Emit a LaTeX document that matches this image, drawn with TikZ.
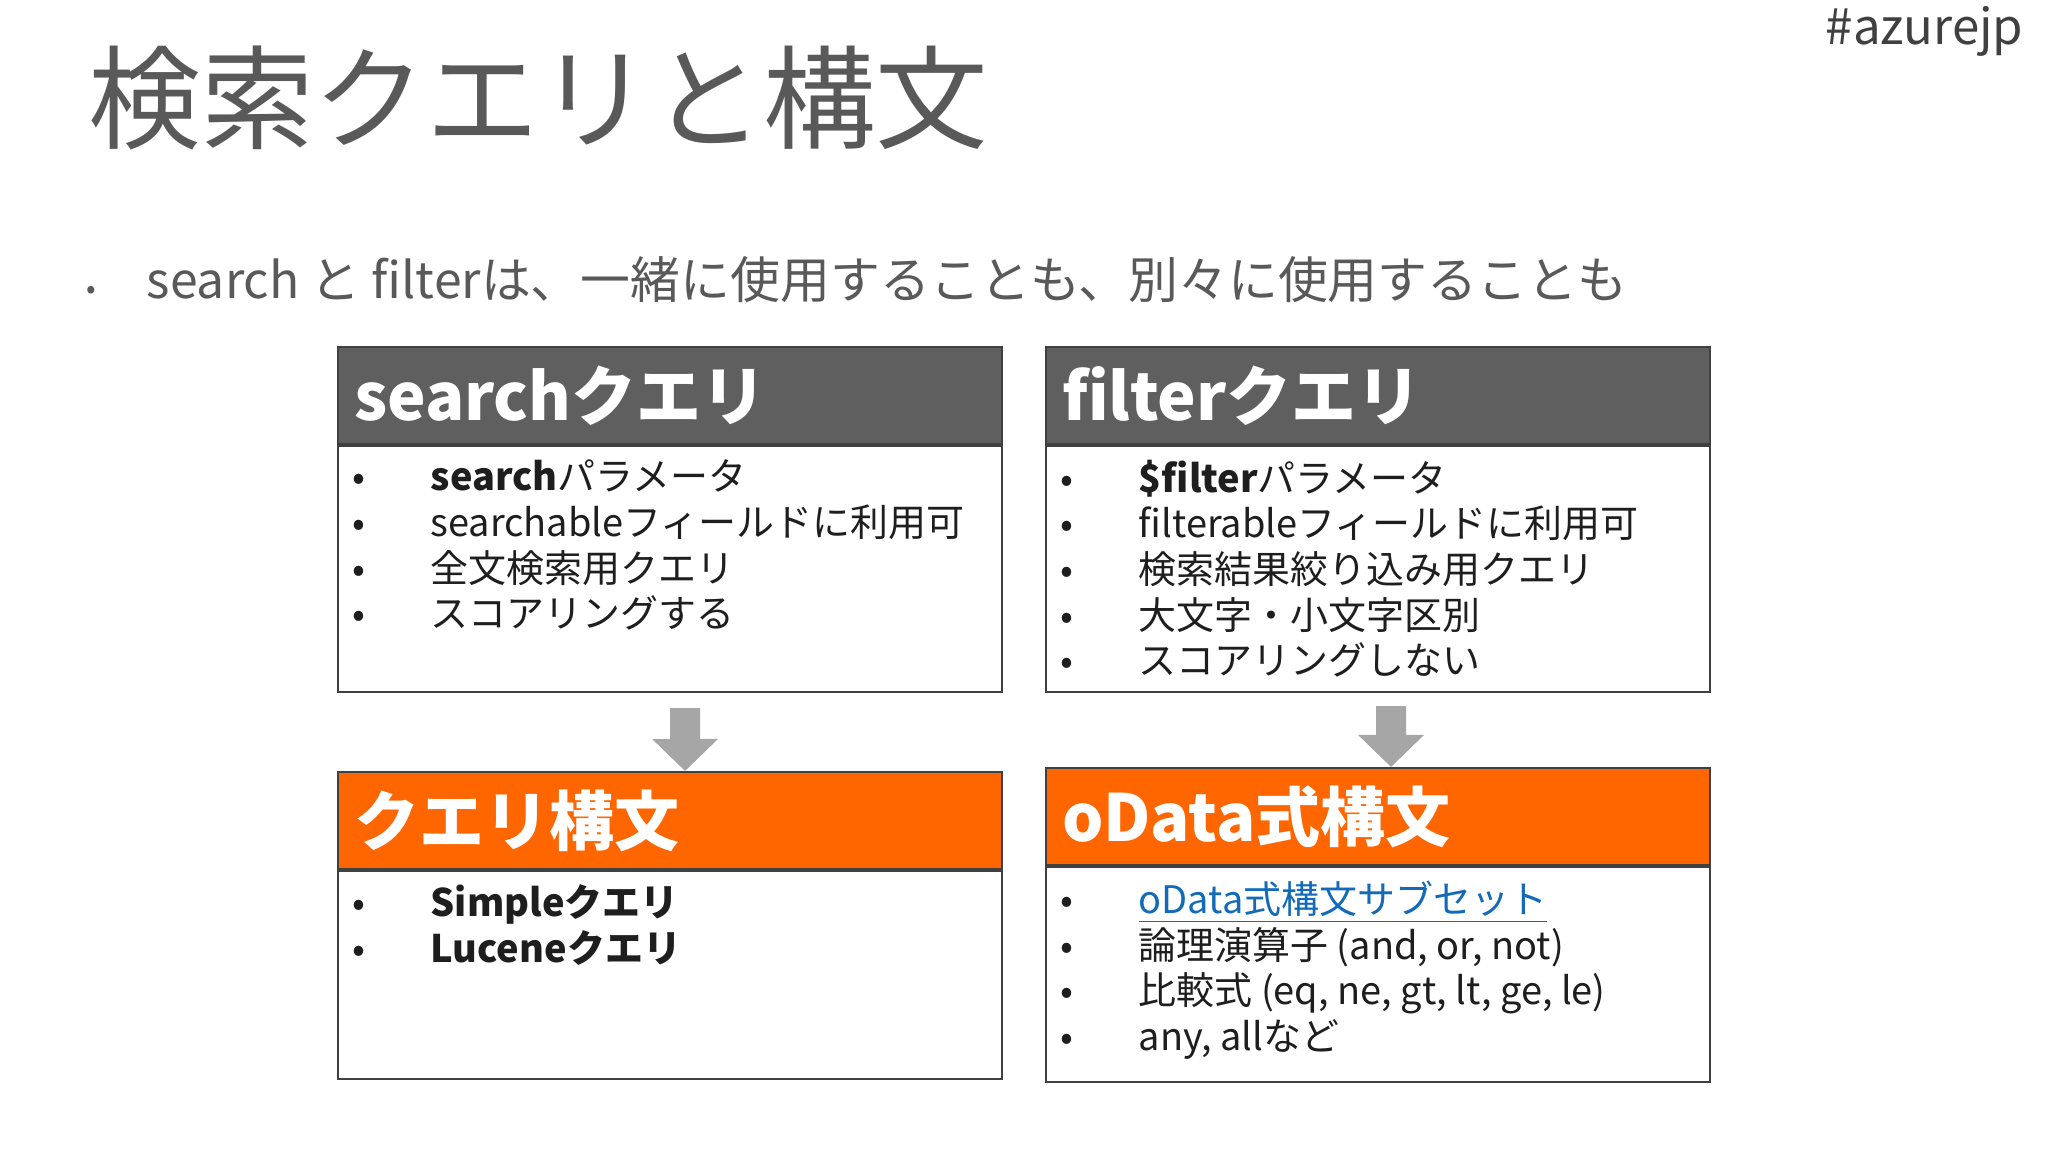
\documentclass[tikz,border=0pt]{standalone}
\usepackage{fontspec}
\setmainfont{Noto Sans CJK JP}
\usepackage{xcolor}
\usepackage{tikz}
\usetikzlibrary{positioning,arrows.meta}
\definecolor{slgray}{RGB}{89,89,89}
\definecolor{slhead}{RGB}{95,95,95}
\definecolor{slorange}{RGB}{255,102,0}
\definecolor{slarrow}{RGB}{166,166,166}
\definecolor{sltext}{RGB}{30,30,30}
\definecolor{sllink}{RGB}{18,106,184}
\definecolor{slline}{RGB}{64,64,64}

\tikzset{
  boxhead/.style={draw=slline, line width=0.6pt, anchor=north west, minimum height=0.97cm,
    text width=6.32cm, inner xsep=0.16cm, inner ysep=0pt, align=left, text=white,
    font=\fontsize{18.5pt}{20pt}\selectfont\bfseries},
  boxbody/.style={draw=slline, line width=0.6pt, anchor=north west, fill=white, minimum width=6.64cm},
  items/.style={anchor=north west, inner sep=0pt, align=left, text=sltext,
    font=\fontsize{10.8pt}{13pt}\selectfont},
  downarrow/.style={draw=slarrow, line width=0.3cm, -{Triangle[width=0.64cm,length=0.32cm]}},
}
\newcommand{\itm}{\makebox[0.78cm][l]{•}}

\begin{document}
\begin{tikzpicture}
\useasboundingbox[fill=white] (0,0) rectangle (20.48,-11.52);

% title and lead line
\node[anchor=west, inner sep=0pt, text=slgray, font=\fontsize{32pt}{36pt}\selectfont] (title) at (0.88,-0.98) {検索クエリと構文};
\node[anchor=north east, inner sep=0pt, text=slline, font=\fontsize{14pt}{16pt}\selectfont] (tag) at (20.24,-0.06) {\#azurejp};
\node[anchor=west, inner sep=0pt, text=slgray, font=\fontsize{14.2pt}{16pt}\selectfont] (lead) at (0.86,-2.80)
  {\makebox[0.6cm][l]{\footnotesize •}search と filterは、一緒に使用することも、別々に使用することも};

% search
\node[boxhead, fill=slhead] (srchhd) at (3.37,-3.46) {searchクエリ};
\node[boxbody, minimum height=2.46cm] (srchbd) at (srchhd.south west) {};
\node[items] (srchit) at ([xshift=0.15cm,yshift=-0.14cm]srchbd.north west)
  {\itm\textbf{search}パラメータ\\
   \itm searchableフィールドに利用可\\
   \itm 全文検索用クエリ\\
   \itm スコアリングする};

% filter
\node[boxhead, fill=slhead] (filthd) at (10.45,-3.46) {filterクエリ};
\node[boxbody, minimum height=2.46cm] (filtbd) at (filthd.south west) {};
\node[items] (filtit) at ([xshift=0.15cm,yshift=-0.14cm]filtbd.north west)
  {\itm\textbf{\$filter}パラメータ\\
   \itm filterableフィールドに利用可\\
   \itm 検索結果絞り込み用クエリ\\
   \itm 大文字・小文字区別\\
   \itm スコアリングしない};

% query syntax
\node[boxhead, fill=slorange] (qsynhd) at (3.37,-7.71) {クエリ構文};
\node[boxbody, minimum height=2.08cm] (qsynbd) at (qsynhd.south west) {};
\node[items] (qsynit) at ([xshift=0.15cm,yshift=-0.14cm]qsynbd.north west)
  {\itm\textbf{Simpleクエリ}\\
   \itm\textbf{Luceneクエリ}};

% odata syntax
\node[boxhead, fill=slorange] (odathd) at (10.45,-7.67) {oData式構文};
\node[boxbody, minimum height=2.15cm] (odatbd) at (odathd.south west) {};
\node[items] (odatit) at ([xshift=0.15cm,yshift=-0.14cm]odatbd.north west)
  {\itm\textcolor{sllink}{\underline{oData式構文サブセット}}\\
   \itm 論理演算子 (and, or, not)\\
   \itm 比較式 (eq, ne, gt, lt, ge, le)\\
   \itm any, allなど};

\draw[downarrow] ([xshift=0.15cm,yshift=-0.15cm]srchbd.south) -- ([xshift=0.15cm]qsynhd.north);
\draw[downarrow] ([xshift=0.13cm,yshift=-0.13cm]filtbd.south) -- ([xshift=0.13cm]odathd.north);
\end{tikzpicture}
\end{document}
